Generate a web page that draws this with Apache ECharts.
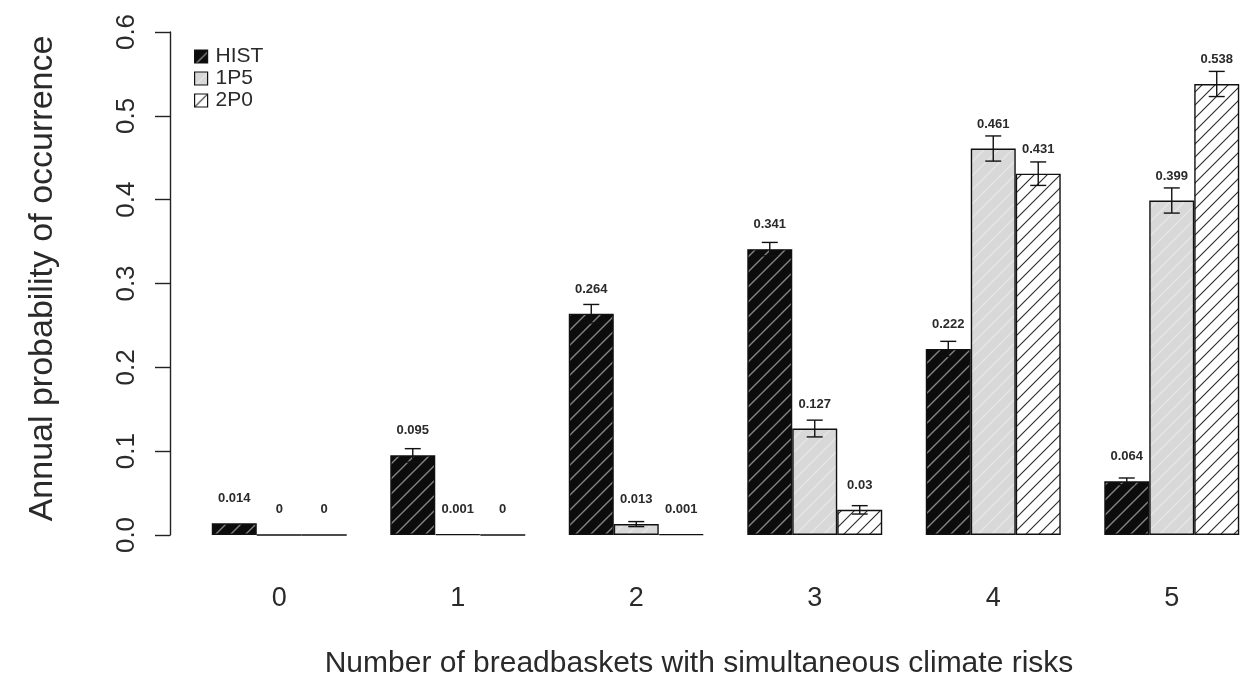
<!DOCTYPE html>
<html>
<head>
<meta charset="utf-8">
<script src="https://cdn.jsdelivr.net/npm/echarts@6/dist/echarts.min.js"></script>
<style>
  html, body { margin: 0; padding: 0; background: #fff; }
  #chart { width: 1246px; height: 674px; }
</style>
</head>
<body>
<div id="chart"></div>
<script>
// Number of breadbaskets hit at the same time
const categories = ['0', '1', '2', '3', '4', '5'];
const seriesNames = ['HIST', '1P5', '2P0'];

// Annual probability of occurrence per scenario
const histValues = [0.014, 0.095, 0.264, 0.341, 0.222, 0.064];
const p15Values  = [0, 0.001, 0.013, 0.127, 0.461, 0.399];
const p20Values  = [0, 0, 0.001, 0.03, 0.431, 0.538];

// Half-width of the uncertainty whiskers
const histErr = [0.001, 0.008, 0.011, 0.008, 0.009, 0.004];
const p15Err  = [0, 0.001, 0.003, 0.01, 0.015, 0.015];
const p20Err  = [0, 0, 0.001, 0.005, 0.014, 0.015];

const yTicks = [0, 0.1, 0.2, 0.3, 0.4, 0.5, 0.6];

const FONT = 'Liberation Sans, Arial, sans-serif';
const TEXT = '#2a2a2a';
const GAP_RATIO = 0.244;   // share of each category band left empty

// Hatch tiles for the bar fills
function hatch(bg, line, size, width) {
  const c = document.createElement('canvas');
  c.width = size; c.height = size;
  const g = c.getContext('2d');
  g.fillStyle = bg;
  g.fillRect(0, 0, size, size);
  g.strokeStyle = line;
  g.lineWidth = width;
  g.beginPath();
  g.moveTo(-1, size + 1); g.lineTo(size + 1, -1);
  g.moveTo(-2, 2); g.lineTo(2, -2);
  g.moveTo(size - 2, size + 2); g.lineTo(size + 2, size - 2);
  g.stroke();
  return { image: c, repeat: 'repeat' };
}

const fills = [
  hatch('#0c0c0c', '#858585', 15, 1.4),
  hatch('#d8d8d8', '#e8e8e8', 14, 1.2),
  hatch('#ffffff', '#2a2a2a', 13, 1.1)
];
const values = [histValues, p15Values, p20Values];
const errors = [histErr, p15Err, p20Err];

const barSeries = seriesNames.map((name, i) => ({
  name: name,
  type: 'bar',
  data: values[i],
  barGap: '0%',
  barCategoryGap: (GAP_RATIO * 100) + '%',
  itemStyle: { color: fills[i], borderColor: '#111', borderWidth: 1.4 },
  label: {
    show: true,
    position: 'top',
    distance: 18,
    fontFamily: FONT,
    fontWeight: 'bold',
    fontSize: 13,
    color: '#2a2a2a',
    formatter: p => String(p.value)
  },
  z: 2
}));

// Whiskers drawn over each bar from its value and error
const errorSeries = seriesNames.map((name, i) => ({
  type: 'custom',
  name: name + ' err',
  data: values[i].map((v, k) => [k, v - errors[i][k], v + errors[i][k]]),
  renderItem: function (params, api) {
    const k = api.value(0);
    const lo = api.coord([k, api.value(1)]);
    const hi = api.coord([k, api.value(2)]);
    const band = api.size([1, 0])[0];
    const barW = band * (1 - GAP_RATIO) / 3;
    const x = lo[0] + (i - 1) * barW;
    if (Math.abs(hi[1] - lo[1]) < 2) return null;
    const cap = 8;
    const style = { stroke: '#111', lineWidth: 1.4 };
    return {
      type: 'group',
      children: [
        { type: 'line', shape: { x1: x, y1: lo[1], x2: x, y2: hi[1] }, style },
        { type: 'line', shape: { x1: x - cap, y1: lo[1], x2: x + cap, y2: lo[1] }, style },
        { type: 'line', shape: { x1: x - cap, y1: hi[1], x2: x + cap, y2: hi[1] }, style }
      ]
    };
  },
  z: 5,
  silent: true
}));

const chart = echarts.init(document.getElementById('chart'), null, { renderer: 'canvas' });
chart.setOption({
  animation: false,
  backgroundColor: '#fff',
  grid: { left: 190, top: 32, right: -15, bottom: 139, outerBoundsMode: 'none', containLabel: false },
  legend: {
    data: seriesNames,
    orient: 'vertical',
    left: 189,
    top: 41,
    itemWidth: 13,
    itemHeight: 13,
    itemGap: 1,
    icon: 'rect',
    textStyle: { fontFamily: FONT, fontSize: 21, color: TEXT, padding: [0, 0, 0, 3] },
    itemStyle: { borderColor: '#111', borderWidth: 1.2 }
  },
  xAxis: {
    type: 'category',
    data: categories,
    axisLine: { show: false },
    axisTick: { show: false },
    axisLabel: { fontFamily: FONT, fontSize: 27, color: TEXT, margin: 50 },
    name: 'Number of breadbaskets with simultaneous climate risks',
    nameLocation: 'middle',
    nameGap: 114,
    nameTextStyle: { fontFamily: FONT, fontSize: 30, color: TEXT, padding: [0, 53, 0, 0] }
  },
  yAxis: {
    type: 'value',
    min: 0,
    max: 0.6,
    interval: 0.1,
    offset: 20,
    splitLine: { show: false },
    axisLine: { show: true, lineStyle: { color: '#222', width: 1.4 } },
    axisTick: { show: true, length: 15, lineStyle: { color: '#222', width: 1.4 } },
    axisLabel: {
      rotate: 90,
      fontFamily: FONT,
      fontSize: 26,
      color: TEXT,
      margin: 30,
      formatter: v => yTicks.includes(+v.toFixed(1)) ? v.toFixed(1) : ''
    },
    name: 'Annual probability of occurrence',
    nameLocation: 'middle',
    nameRotate: 90,
    nameGap: 110,
    nameTextStyle: { fontFamily: FONT, fontSize: 34, color: TEXT, padding: [0, 0, 0, 10] }
  },
  series: barSeries.concat(errorSeries)
});
</script>
</body>
</html>
